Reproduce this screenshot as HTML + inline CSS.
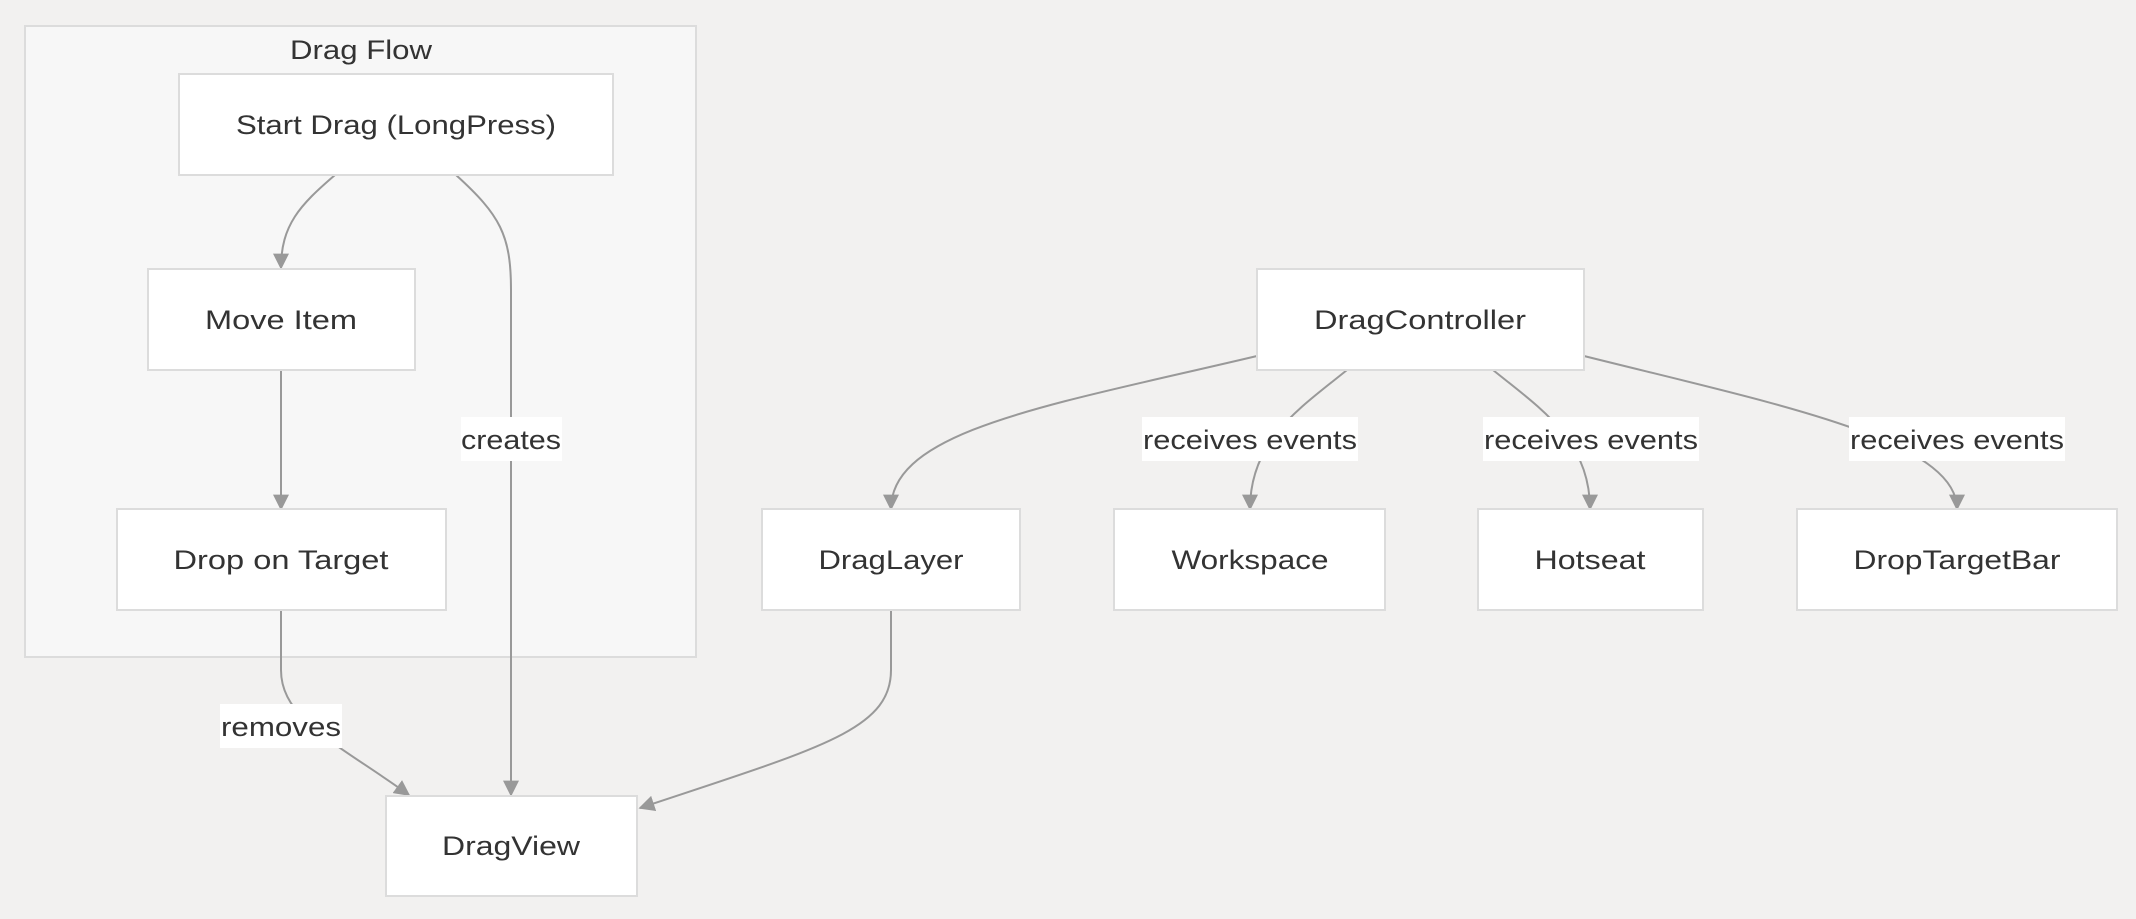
<!DOCTYPE html>
<html><head><meta charset="utf-8"><style>
body{margin:0;background:#f2f1f0;}
svg{display:block;font-family:"Segoe UI","Liberation Sans","DejaVu Sans",sans-serif;}
text{fill:#333;font-size:27px;text-anchor:middle;dominant-baseline:central;}
.n{fill:#fff;stroke:#dcdcdc;stroke-width:2;}
.e{fill:none;stroke:#999;stroke-width:2;}
.l{fill:#fff;}
</style></head><body>
<svg width="2136" height="919" viewBox="0 0 2136 919">
<defs>
<marker id="b" viewBox="0 0 10 10" refX="9" refY="5" markerWidth="16" markerHeight="16" orient="auto" markerUnits="userSpaceOnUse"><path d="M0,0L10,5L0,10z" fill="#999"/></marker></defs>
<rect x="25" y="26" width="671" height="631" fill="#f7f7f7" stroke="#dcdcdc" stroke-width="2"/>
<text x="361" y="50" textLength="142" lengthAdjust="spacingAndGlyphs">Drag Flow</text>

<path class="e" marker-end="url(#b)" d="M335,175 C300,205 281,225 281,268"/>
<path class="e" marker-end="url(#b)" d="M456,175 C500,215 511,235 511,290 L511,795"/>
<path class="e" marker-end="url(#b)" d="M281,370 L281,509"/>
<path class="e" marker-end="url(#b)" d="M281,610 L281,670 C281,720 340,745 409,795"/>
<path class="e" marker-end="url(#b)" d="M891,610 L891,670 C891,730 820,748 640,808"/>
<path class="e" marker-end="url(#b)" d="M1257,356 C1050,405 891,430 891,509"/>
<path class="e" marker-end="url(#b)" d="M1347,370 C1300,408 1250,440 1250,509"/>
<path class="e" marker-end="url(#b)" d="M1493,370 C1540,408 1590,440 1590,509"/>
<path class="e" marker-end="url(#b)" d="M1584,356 C1780,405 1957,440 1957,509"/>

<rect class="n" x="179" y="74" width="434" height="101"/><text x="396" y="125" textLength="320" lengthAdjust="spacingAndGlyphs">Start Drag (LongPress)</text>
<rect class="n" x="148" y="269" width="267" height="101"/><text x="281" y="320" textLength="152" lengthAdjust="spacingAndGlyphs">Move Item</text>
<rect class="n" x="117" y="509" width="329" height="101"/><text x="281" y="560" textLength="215" lengthAdjust="spacingAndGlyphs">Drop on Target</text>
<rect class="n" x="386" y="796" width="251" height="100"/><text x="511" y="846" textLength="138" lengthAdjust="spacingAndGlyphs">DragView</text>
<rect class="n" x="762" y="509" width="258" height="101"/><text x="891" y="560" textLength="145" lengthAdjust="spacingAndGlyphs">DragLayer</text>
<rect class="n" x="1257" y="269" width="327" height="101"/><text x="1420" y="320" textLength="212" lengthAdjust="spacingAndGlyphs">DragController</text>
<rect class="n" x="1114" y="509" width="271" height="101"/><text x="1250" y="560" textLength="157" lengthAdjust="spacingAndGlyphs">Workspace</text>
<rect class="n" x="1478" y="509" width="225" height="101"/><text x="1590" y="560" textLength="111" lengthAdjust="spacingAndGlyphs">Hotseat</text>
<rect class="n" x="1797" y="509" width="320" height="101"/><text x="1957" y="560" textLength="207" lengthAdjust="spacingAndGlyphs">DropTargetBar</text>

<rect class="l" x="461" y="417" width="101" height="44"/><text x="511" y="440" textLength="100" lengthAdjust="spacingAndGlyphs">creates</text>
<rect class="l" x="220" y="704" width="122" height="44"/><text x="281" y="727" textLength="120" lengthAdjust="spacingAndGlyphs">removes</text>
<rect class="l" x="1142" y="417" width="216" height="44"/><text x="1250" y="440" textLength="214" lengthAdjust="spacingAndGlyphs">receives events</text>
<rect class="l" x="1483" y="417" width="216" height="44"/><text x="1591" y="440" textLength="214" lengthAdjust="spacingAndGlyphs">receives events</text>
<rect class="l" x="1849" y="417" width="216" height="44"/><text x="1957" y="440" textLength="214" lengthAdjust="spacingAndGlyphs">receives events</text>
</svg>
</body></html>
